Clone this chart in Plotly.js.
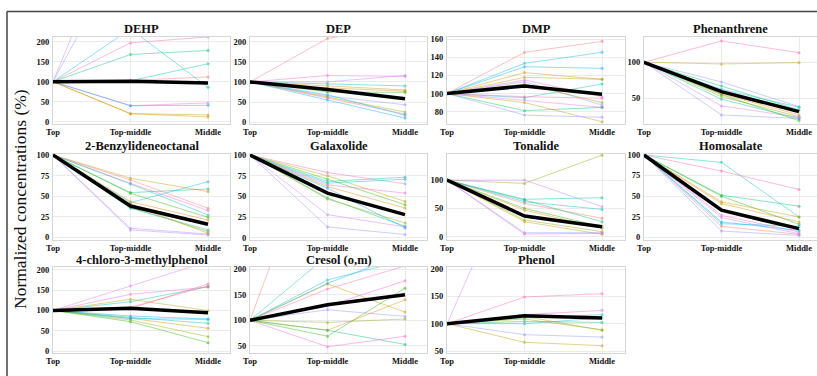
<!DOCTYPE html>
<html>
<head>
<meta charset="utf-8">
<script src="https://cdn.plot.ly/plotly-3.0.1.min.js"></script>
<style>
html,body{margin:0;padding:0;background:#fff;}
#chart{width:817px;height:376px;}
</style>
</head>
<body>
<div id="chart"></div>
<script>
// ---------- DATA ----------
const positions = ['Top', 'Top-middle', 'Middle'];
const compounds = ['DEHP','DEP','DMP','Phenanthrene','2-Benzylideneoctanal','Galaxolide','Tonalide','Homosalate','4-chloro-3-methylphenol','Cresol (o,m)','Phenol'];

// Each sample starts at 100 (Top); values at Top-middle and Middle (%)
const dehpTopMid   = [570, 460, 232, 197, 168, 102, 103, 40, 40, 20, 20];
const dehpMiddle   = [450, 380, 86, 212, 178, 145, 112, 47, 41, 17, 12];
const dehpMean     = [100, 101, 97];

const depTopMid    = [208, 116, 100, 95, 90, 85, 75, 65, 62, 60, 55, 68];
const depMiddle    = [240, 114, 116, 90, 80, 77, 74, 43, 25, 20, 10, 17];
const depMean      = [100, 81, 58];

const dmpTopMid    = [145.3, 133.2, 129.5, 123, 117.8, 114.9, 113, 110.5, 95.4, 96.5, 92.8, 90, 81.1, 76.3];
const dmpMiddle    = [157.4, 145.3, 127.7, 115.6, 115.6, 96.5, 87.3, 90, 110.5, 94.7, 84.8, 69, 84.8, 73.8];
const dmpMean      = [100, 108.3, 99.1];

const phenTopMid   = [129.6, 97.7, 72.7, 67, 62.5, 56, 52.3, 48.6, 39.4, 26.9, 55];
const phenMiddle   = [113.4, 99.5, 38.4, 33.8, 37.5, 26.9, 24.5, 22, 23.6, 22, 19];
const phenMean     = [100, 59.3, 31.5];

const benzTopMid   = [71.7, 69.6, 65.6, 64.8, 54.3, 53.4, 42.1, 43.3, 36.4, 35.2, 10.9, 8.9, 40];
const benzMiddle   = [55.5, 35.2, 32.4, 27.1, 58.7, 24.3, 67.6, 21, 6.9, 8.9, 4, 2.8, 4.9];
const benzMean     = [100, 38, 15.8];

const galaTopMid   = [78.8, 74.8, 70.8, 68, 66, 64, 62, 48, 46.8, 60, 28, 13.2];
const galaMiddle   = [65.2, 44, 40, 73.2, 70.8, 54, 36, 14, 18, 12, 13.2, 4];
const galaMean     = [100, 54, 28];

const tonaTopMid   = [94, 100, 66, 61.8, 58.8, 64.7, 50, 47, 29.4, 26.5, 7, 4.7];
const tonaMiddle   = [144, 53, 68.8, 48.2, 32.4, 26.5, 17.6, 14.7, 8.8, 4.1, 7, 5.9];
const tonaMean     = [100, 36.5, 17.6];

const homoTopMid   = [91, 80.4, 51, 49.8, 42.9, 40.8, 26.5, 23.7, 18.4, 16.3, 13, 7.3];
const homoMiddle   = [24.5, 58, 37.6, 15.5, 24.5, 18.4, 6.1, 4.1, 8.2, 13.1, 3.3, 2];
const homoMean     = [100, 32.7, 10.2];

const chloTopMid   = [160.5, 140, 121.8, 127.6, 105.3, 108, 86.4, 83, 76.5, 72.4, 80.7, 80];
const chloMiddle   = [221, 158, 158.8, 99.6, 165.4, 160.5, 79, 68.3, 35.4, 20.6, 56, 78];
const chloMean     = [100, 105.3, 94.6];

const cresTopMid   = [510, 226, 178.7, 172, 161, 171, 128, 120.6, 69, 96, 80.6, 80.6, 48.4];
const cresMiddle   = [400, 260, 217, 230, 206, 116, 177, 107.7, 162.6, 102.6, 140, 53, 69];
const cresMean     = [100, 130.3, 149.7];

const pheoTopMid   = [419, 148.8, 116.5, 110.4, 113.4, 108.5, 100, 104, 79.9, 65.9];
const pheoMiddle   = [350, 154.9, 124.4, 116.5, 87.8, 89, 110.4, 102.4, 75.6, 59.8];
const pheoMean     = [100, 114.6, 110.4];

const yTicks = [
  [0,50,100,150,200],[0,50,100,150,200],[80,100,120,140,160],[50,100],
  [0,25,50,75,100],[0,25,50,75,100],[0,50,100],[0,25,50,75,100],
  [0,50,100,150,200],[50,100,150,200],[50,100,150,200]
];

// ---------- STYLE ----------
const hue = {
  pink:'#F8766D', orange:'#E18A00', gold:'#BE9C00', olive:'#8CAB00', green:'#24B700',
  tgreen:'#00BE70', teal:'#00C1AB', cyan:'#00BBDA', blue:'#00ACFC', purple:'#8B93FF',
  violet:'#D575FE', magenta:'#F962DD', rose:'#FF65AC'
};
const colorKeys = [
  ['violet','purple','cyan','rose','tgreen','teal','pink','magenta','blue','gold','orange'],
  ['pink','magenta','violet','teal','gold','orange','green','purple','olive','rose','blue','cyan'],
  ['pink','cyan','blue','orange','gold','magenta','purple','olive','teal','rose','violet','gold','tgreen','purple'],
  ['rose','gold','purple','tgreen','cyan','orange','olive','teal','violet','purple','green'],
  ['gold','pink','magenta','teal','tgreen','green','cyan','orange','olive','teal','violet','purple','gold'],
  ['rose','gold','green','teal','cyan','magenta','orange','tgreen','olive','blue','violet','purple'],
  ['olive','violet','teal','cyan','pink','tgreen','green','orange','olive','gold','purple','magenta'],
  ['teal','rose','tgreen','green','gold','orange','magenta','violet','blue','cyan','pink','purple'],
  ['violet','magenta','teal','gold','rose','pink','blue','teal','olive','green','orange','cyan'],
  ['pink','teal','cyan','blue','rose','gold','magenta','purple','green','olive','orange','tgreen','magenta'],
  ['violet','rose','magenta','teal','gold','olive','cyan','tgreen','purple','gold']
];
const yRanges = [
  [-4.5,211.7],[-3.5,211.7],[67,162.2],[15,135.1],
  [-2.7,101.2],[-2,101.2],[-5,146],[-3,101.2],
  [-3.7,208.6],[37.3,204.9],[47.3,204.6]
];
const colPx = [[53,230],[250,427],[447,625],[644,817]];
const rowPx = [[37,123.5],[154,239.5],[266.5,352.5]];
const titleGap = [8.5, 8.5, 6.5];
const W = 817, H = 376;

const seriesTM  = [dehpTopMid, depTopMid, dmpTopMid, phenTopMid, benzTopMid, galaTopMid, tonaTopMid, homoTopMid, chloTopMid, cresTopMid, pheoTopMid];
const seriesMid = [dehpMiddle, depMiddle, dmpMiddle, phenMiddle, benzMiddle, galaMiddle, tonaMiddle, homoMiddle, chloMiddle, cresMiddle, pheoMiddle];
const means     = [dehpMean, depMean, dmpMean, phenMean, benzMean, galaMean, tonaMean, homoMean, chloMean, cresMean, pheoMean];

const xIdx = [0, 1, 2];
const fam = 'Liberation Serif';
const traces = [];
const layout = {
  width: W, height: H, margin: {l:0, r:0, t:0, b:0},
  paper_bgcolor: '#fff', plot_bgcolor: '#fff', showlegend: false,
  font: {family: fam},
  annotations: [], shapes: []
};

compounds.forEach((name, i) => {
  const r = Math.floor(i / 4), c = i % 4;
  const ax = i === 0 ? '' : String(i + 1);
  const xa = 'x' + ax, ya = 'y' + ax;
  const tm = seriesTM[i], md = seriesMid[i];
  for (let k = 0; k < tm.length; k++) {
    traces.push({
      type: 'scatter', mode: 'lines+markers', x: xIdx, y: [100, tm[k], md[k]],
      xaxis: xa, yaxis: ya,
      line: {color: hue[colorKeys[i][k]], width: 0.8},
      marker: {color: hue[colorKeys[i][k]], size: 3},
      opacity: 0.55, hoverinfo: 'skip'
    });
  }
  traces.push({
    type: 'scatter', mode: 'lines', x: xIdx, y: means[i], xaxis: xa, yaxis: ya,
    line: {color: '#000', width: 3.5}, hoverinfo: 'skip'
  });
  const [x0, x1] = colPx[c], [y0, y1] = rowPx[r];
  const span = 2 * (x1 - x0) / 155;
  const tf = {family: fam, size: 8.5, color: '#111', weight: 'bold'};
  layout['xaxis' + ax] = {
    domain: [x0 / W, x1 / W], range: [0, span], anchor: ya,
    tickvals: xIdx, ticktext: positions,
    showgrid: true, gridcolor: '#ebebeb', gridwidth: 1, zeroline: false,
    showline: true, mirror: true, linecolor: '#d6d6d6', linewidth: 1,
    ticks: '', tickfont: tf
  };
  layout['yaxis' + ax] = {
    domain: [1 - y1 / H, 1 - y0 / H], range: yRanges[i], anchor: xa,
    tickvals: yTicks[i],
    showgrid: true, gridcolor: '#ebebeb', gridwidth: 1, zeroline: false,
    showline: true, mirror: true, linecolor: '#d6d6d6', linewidth: 1,
    ticks: 'outside', ticklen: 1, tickcolor: 'rgba(0,0,0,0)',
    tickfont: tf
  };
  layout.annotations.push({
    text: name, xref: 'paper', yref: 'paper',
    x: (x0 + x1) / 2 / W, y: 1 - (y0 - titleGap[r]) / H, xanchor: 'center', yanchor: 'middle',
    showarrow: false, font: {family: fam, size: 12.5, color: '#111', weight: 'bold'}
  });
});

layout.annotations.push({
  text: 'Normalized concentrations (%)', xref: 'paper', yref: 'paper',
  x: 20 / W, y: 1 - 199 / H, xanchor: 'center', yanchor: 'middle', textangle: -90,
  showarrow: false, font: {family: fam, size: 17.5, color: '#111'}
});
layout.shapes.push(
  {type: 'line', xref: 'paper', yref: 'paper', x0: 7 / W, x1: 1, y0: 1 - 11.5 / H, y1: 1 - 11.5 / H, line: {color: '#444', width: 1.5}},
  {type: 'line', xref: 'paper', yref: 'paper', x0: 7 / W, x1: 7 / W, y0: 0, y1: 1 - 11.5 / H, line: {color: '#444', width: 1.5}}
);

Plotly.newPlot('chart', traces, layout, {staticPlot: true, displayModeBar: false});
</script>
</body>
</html>
